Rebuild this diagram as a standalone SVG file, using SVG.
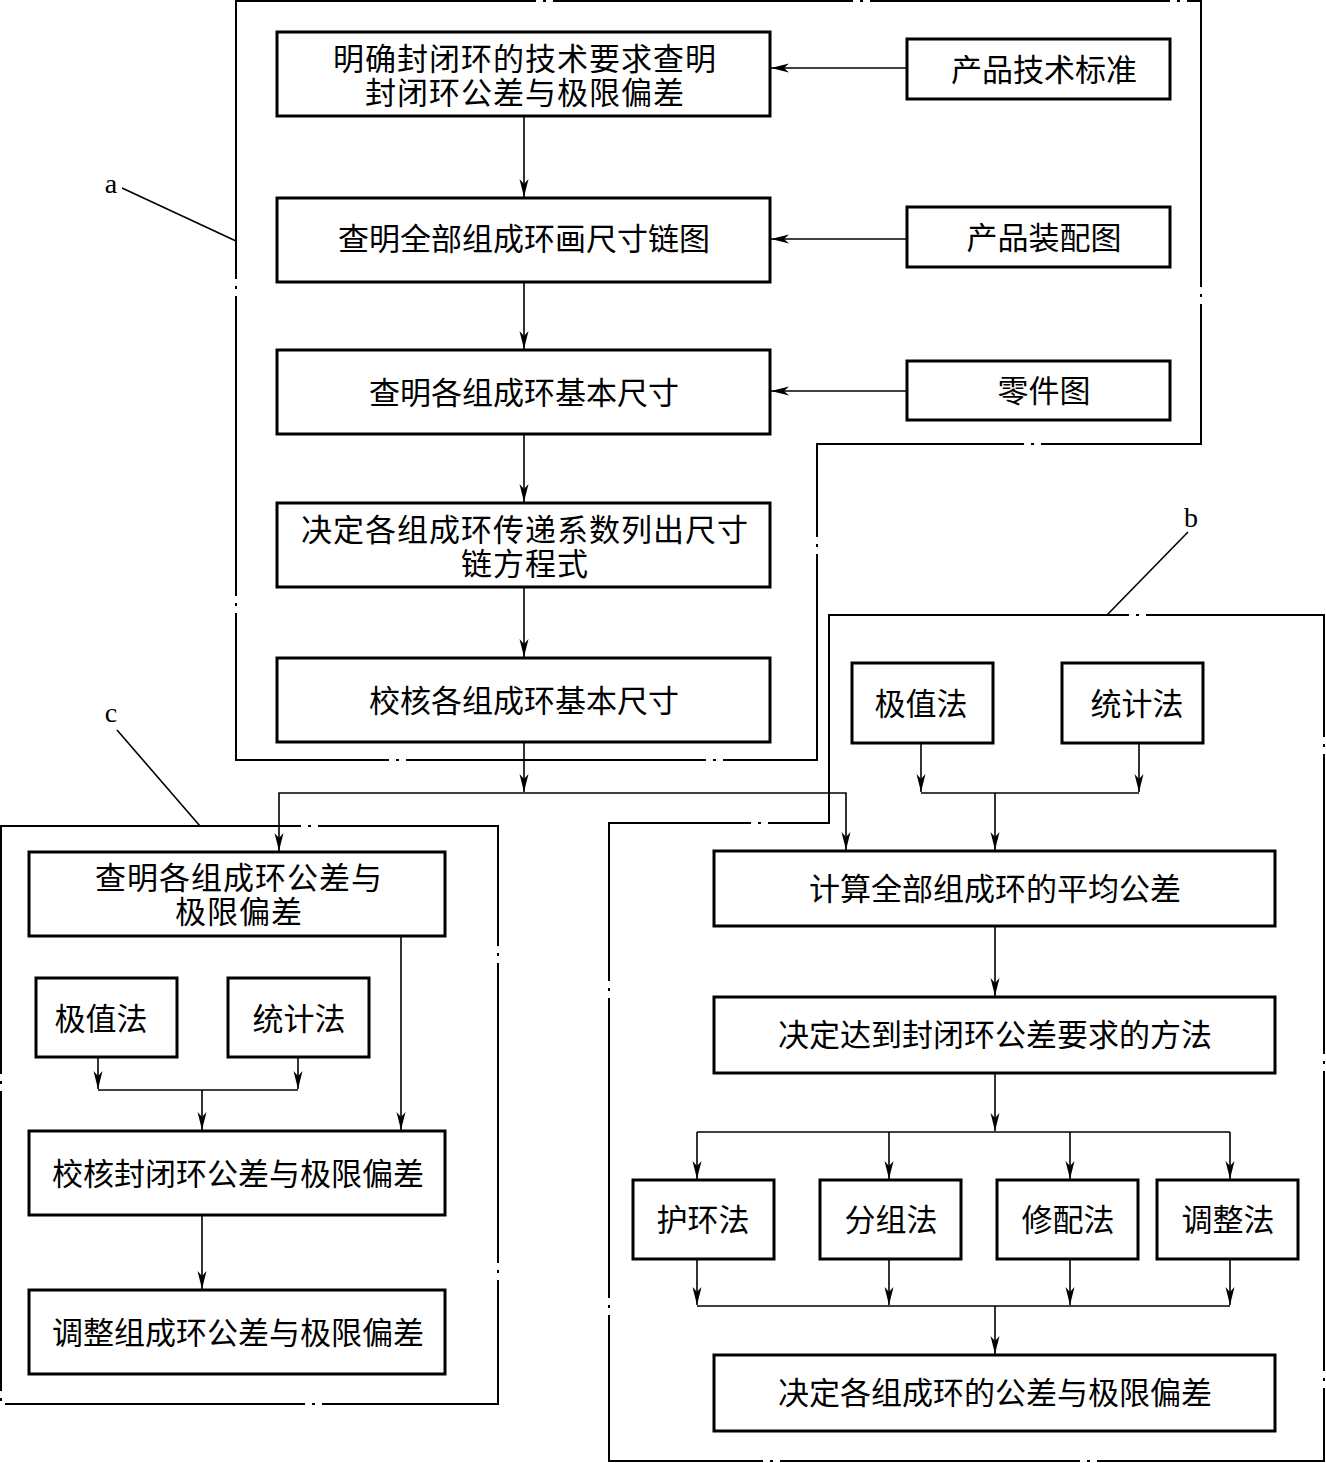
<svg xmlns="http://www.w3.org/2000/svg" width="1326" height="1463" viewBox="0 0 1326 1463">
<style>
.box{fill:#fff;stroke:#000;stroke-width:3}
.t{font-family:"Noto Sans CJK SC","Noto Sans CJK JP",sans-serif;font-size:31px;fill:#000;text-anchor:middle;dominant-baseline:central}
.t2{letter-spacing:1px}
.c{fill:none;stroke:#000;stroke-width:1.6}
.g{fill:none;stroke:#000;stroke-width:2;stroke-dasharray:300 7 3 7}
.lead{fill:none;stroke:#000;stroke-width:1.6}
.lbl{font-family:"Liberation Serif",serif;font-size:28px;fill:#000;text-anchor:middle}
</style>
<defs>
<marker id="ah" viewBox="-19 -5 20 10" refX="0" refY="0" markerWidth="20" markerHeight="10" markerUnits="userSpaceOnUse" orient="auto">
<path d="M0,0 L-18,-4.5 L-13,0 L-18,4.5 Z" fill="#000"/>
</marker>
</defs>
<rect width="1326" height="1463" fill="#fff"/>

<g id="groups">
<path class="g" d="M236,1 H1201 V444 H817 V760 H236 Z"/>
<path class="g" d="M829,615 H1324 V1461 H609 V823 H829 Z"/>
<path class="g" d="M1,826 H498 V1404 H1 Z"/>
</g>

<g id="labels">
<text class="lbl" x="111" y="193">a</text>
<line class="lead" x1="122" y1="188" x2="236" y2="241"/>
<text class="lbl" x="1191" y="527">b</text>
<line class="lead" x1="1188" y1="532" x2="1107" y2="615"/>
<text class="lbl" x="111" y="722">c</text>
<line class="lead" x1="117" y1="730" x2="200" y2="826"/>
</g>

<g id="connectors">
<line class="c" x1="907" y1="68" x2="771" y2="68" marker-end="url(#ah)"/>
<line class="c" x1="907" y1="239" x2="771" y2="239" marker-end="url(#ah)"/>
<line class="c" x1="907" y1="391" x2="771" y2="391" marker-end="url(#ah)"/>
<line class="c" x1="524" y1="116" x2="524" y2="197" marker-end="url(#ah)"/>
<line class="c" x1="524" y1="282" x2="524" y2="349" marker-end="url(#ah)"/>
<line class="c" x1="524" y1="434" x2="524" y2="502" marker-end="url(#ah)"/>
<line class="c" x1="524" y1="587" x2="524" y2="657" marker-end="url(#ah)"/>
<line class="c" x1="524" y1="742" x2="524" y2="792" marker-end="url(#ah)"/>
<path class="c" d="M524,793 H279 V851" marker-end="url(#ah)"/>
<path class="c" d="M524,793 H846 V850" marker-end="url(#ah)"/>
<line class="c" x1="921" y1="743" x2="921" y2="792" marker-end="url(#ah)"/>
<line class="c" x1="1139" y1="743" x2="1139" y2="792" marker-end="url(#ah)"/>
<path class="c" d="M921,793 H1139"/>
<line class="c" x1="995" y1="793" x2="995" y2="850" marker-end="url(#ah)"/>
<line class="c" x1="995" y1="926" x2="995" y2="996" marker-end="url(#ah)"/>
<line class="c" x1="995" y1="1073" x2="995" y2="1131" marker-end="url(#ah)"/>
<path class="c" d="M697,1132 H1230"/>
<line class="c" x1="697" y1="1132" x2="697" y2="1179" marker-end="url(#ah)"/>
<line class="c" x1="889" y1="1132" x2="889" y2="1179" marker-end="url(#ah)"/>
<line class="c" x1="1070" y1="1132" x2="1070" y2="1179" marker-end="url(#ah)"/>
<line class="c" x1="1230" y1="1132" x2="1230" y2="1179" marker-end="url(#ah)"/>
<line class="c" x1="697" y1="1259" x2="697" y2="1305" marker-end="url(#ah)"/>
<line class="c" x1="889" y1="1259" x2="889" y2="1305" marker-end="url(#ah)"/>
<line class="c" x1="1070" y1="1259" x2="1070" y2="1305" marker-end="url(#ah)"/>
<line class="c" x1="1230" y1="1259" x2="1230" y2="1305" marker-end="url(#ah)"/>
<path class="c" d="M697,1306 H1230"/>
<line class="c" x1="995" y1="1306" x2="995" y2="1354" marker-end="url(#ah)"/>
<line class="c" x1="98" y1="1057" x2="98" y2="1089" marker-end="url(#ah)"/>
<line class="c" x1="298" y1="1057" x2="298" y2="1089" marker-end="url(#ah)"/>
<path class="c" d="M98,1090 H298"/>
<line class="c" x1="202" y1="1090" x2="202" y2="1130" marker-end="url(#ah)"/>
<line class="c" x1="401" y1="936" x2="401" y2="1130" marker-end="url(#ah)"/>
<line class="c" x1="202" y1="1215" x2="202" y2="1289" marker-end="url(#ah)"/>
</g>

<g id="A1"><rect class="box" x="277" y="32" width="493" height="84"/><text class="t t2"><tspan x="525" y="56">明确封闭环的技术要求查明</tspan><tspan x="525" y="90">封闭环公差与极限偏差</tspan></text></g>
<g id="P1"><rect class="box" x="907" y="39" width="263" height="60"/><text class="t" x="1044" y="67">产品技术标准</text></g>
<g id="A2"><rect class="box" x="277" y="198" width="493" height="84"/><text class="t" x="524" y="236">查明全部组成环画尺寸链图</text></g>
<g id="P2"><rect class="box" x="907" y="207" width="263" height="60"/><text class="t" x="1044" y="235">产品装配图</text></g>
<g id="A3"><rect class="box" x="277" y="350" width="493" height="84"/><text class="t" x="524" y="390">查明各组成环基本尺寸</text></g>
<g id="P3"><rect class="box" x="907" y="361" width="263" height="59"/><text class="t" x="1044" y="388">零件图</text></g>
<g id="A4"><rect class="box" x="277" y="503" width="493" height="84"/><text class="t t2"><tspan x="525" y="527">决定各组成环传递系数列出尺寸</tspan><tspan x="525" y="561">链方程式</tspan></text></g>
<g id="A5"><rect class="box" x="277" y="658" width="493" height="84"/><text class="t" x="524" y="698">校核各组成环基本尺寸</text></g>

<g id="B_ex"><rect class="box" x="852" y="663" width="141" height="80"/><text class="t" x="921" y="701">极值法</text></g>
<g id="B_st"><rect class="box" x="1062" y="663" width="141" height="80"/><text class="t" x="1137" y="701">统计法</text></g>
<g id="B1"><rect class="box" x="714" y="851" width="561" height="75"/><text class="t" x="995" y="886">计算全部组成环的平均公差</text></g>
<g id="B2"><rect class="box" x="714" y="997" width="561" height="76"/><text class="t" x="995" y="1032">决定达到封闭环公差要求的方法</text></g>
<g id="B3"><rect class="box" x="633" y="1180" width="141" height="79"/><text class="t" x="703" y="1217">护环法</text></g>
<g id="B4"><rect class="box" x="820" y="1180" width="141" height="79"/><text class="t" x="891" y="1217">分组法</text></g>
<g id="B5"><rect class="box" x="997" y="1180" width="141" height="79"/><text class="t" x="1068" y="1217">修配法</text></g>
<g id="B6"><rect class="box" x="1157" y="1180" width="141" height="79"/><text class="t" x="1228" y="1217">调整法</text></g>
<g id="B7"><rect class="box" x="714" y="1355" width="561" height="76"/><text class="t" x="995" y="1390">决定各组成环的公差与极限偏差</text></g>

<g id="C1"><rect class="box" x="29" y="852" width="416" height="84"/><text class="t t2"><tspan x="239" y="875">查明各组成环公差与</tspan><tspan x="239" y="909">极限偏差</tspan></text></g>
<g id="C_ex"><rect class="box" x="36" y="978" width="141" height="79"/><text class="t" x="101" y="1016">极值法</text></g>
<g id="C_st"><rect class="box" x="228" y="978" width="141" height="79"/><text class="t" x="299" y="1016">统计法</text></g>
<g id="C2"><rect class="box" x="29" y="1131" width="416" height="84"/><text class="t" x="238" y="1171">校核封闭环公差与极限偏差</text></g>
<g id="C3"><rect class="box" x="29" y="1290" width="416" height="84"/><text class="t" x="238" y="1330">调整组成环公差与极限偏差</text></g>
</svg>
